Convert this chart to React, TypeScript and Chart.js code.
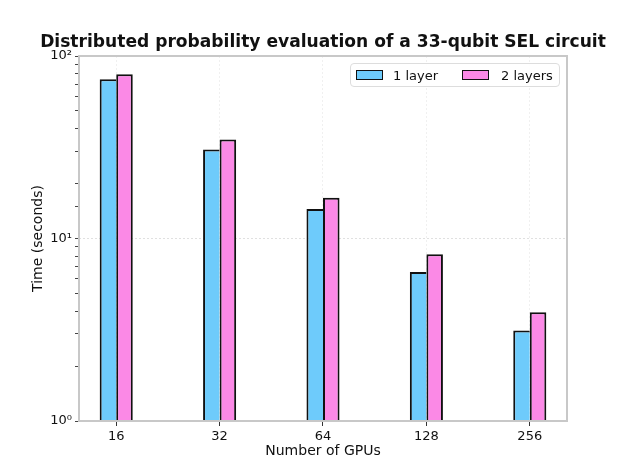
import React, { useEffect, useRef } from "react";
import { Chart, registerables } from "chart.js";

Chart.register(...registerables);

const categories = ["16", "32", "64", "128", "256"];
const oneLayer = [74.5, 30.7, 14.5, 6.55, 3.13];
const twoLayers = [79.5, 34.9, 16.7, 8.2, 3.94];
const yMajorTicks = [1, 10, 100];
const yTickLabels: Record<number, string> = { 1: "10\u2070", 10: "10\u00b9", 100: "10\u00b2" };
const seriesNames = ["1 layer", "2 layers"];
const seriesColors = ["#6ecbfb", "#fb89e6"];
const titleText = "Distributed probability evaluation of a 33-qubit SEL circuit";

const FONT = "'DejaVu Sans', sans-serif";

const boxPlugin = {
  id: "boxPlugin",
  afterDraw(chart: any) {
    const { ctx, chartArea: a } = chart;
    ctx.save();
    ctx.strokeStyle = "#c8c8c8";
    ctx.lineWidth = 2;
    ctx.strokeRect(a.left, a.top, a.right - a.left, a.bottom - a.top);
    ctx.fillStyle = "#111";
    ctx.font = `bold 17.1px ${FONT}`;
    ctx.textAlign = "center";
    ctx.textBaseline = "middle";
    ctx.fillText(titleText, (a.left + a.right) / 2, 43);
    ctx.restore();
  },
};

export default function App() {
  const ref = useRef<HTMLCanvasElement>(null);
  useEffect(() => {
    if (!ref.current) return;
    const toXY = (arr: number[]) => arr.map((v, i) => ({ x: i, y: v }));
    const chart = new Chart(ref.current, {
      type: "bar",
      data: {
        datasets: [
          {
            label: seriesNames[0],
            data: toXY(oneLayer),
            backgroundColor: seriesColors[0],
            borderColor: "#111",
            borderWidth: { top: 2, left: 2, right: 0, bottom: 0 },
            borderSkipped: false,
            categoryPercentage: 0.32,
            barPercentage: 1,
          },
          {
            label: seriesNames[1],
            data: toXY(twoLayers),
            backgroundColor: seriesColors[1],
            borderColor: "#111",
            borderWidth: { top: 2, left: 2, right: 2, bottom: 0 },
            borderSkipped: false,
            categoryPercentage: 0.32,
            barPercentage: 1,
          },
        ],
      },
      options: {
        animation: false,
        responsive: true,
        maintainAspectRatio: false,
        layout: { padding: { left: 30, right: 63, top: 56, bottom: 13 } },
        plugins: {
          legend: { display: false },
          tooltip: { enabled: false },
          title: { display: false },
        },
        scales: {
          x: {
            type: "linear",
            min: -0.36,
            max: categories.length - 1 + 0.36,
            offset: false,
            afterBuildTicks: (scale: any) => {
              scale.ticks = categories.map((_, i) => ({ value: i }));
            },
            afterFit: (scale: any) => {
              scale.height = 39;
            },
            ticks: {
              autoSkip: false,
              maxRotation: 0,
              padding: 3,
              color: "#111",
              font: { family: FONT, size: 13 },
              callback: (v: any) => categories[Math.round(Number(v))] ?? "",
            },
            grid: {
              offset: false,
              color: "rgba(0,0,0,0.06)",
              tickColor: "#333",
              tickLength: 5,
              lineWidth: 1,
            },
            border: { display: false, dash: [2, 2] },
            title: {
              display: true,
              text: "Number of GPUs",
              color: "#111",
              font: { family: FONT, size: 14 },
              padding: { top: 2, bottom: 0 },
            },
          },
          y: {
            type: "logarithmic",
            min: 1,
            max: 100,
            afterFit: (scale: any) => {
              scale.width = 49;
            },
            ticks: {
              autoSkip: false,
              padding: 3,
              color: "#111",
              font: { family: FONT, size: 13 },
              callback: (v: any) => yTickLabels[Number(v)] ?? "",
            },
            grid: {
              color: (c: any) =>
                c.tick && yMajorTicks.includes(c.tick.value) ? "rgba(0,0,0,0.12)" : "rgba(0,0,0,0)",
              tickColor: "#444",
              tickLength: 4,
              lineWidth: 1,
            },
            border: { display: false, dash: [2, 2] },
            title: {
              display: true,
              text: "Time (seconds)",
              color: "#111",
              font: { family: FONT, size: 14 },
              padding: { top: 0, bottom: 4 },
            },
          },
        },
      },
      plugins: [boxPlugin],
    });
    return () => chart.destroy();
  }, []);

  const sw = (c: string) => ({
    display: "inline-block",
    width: 25,
    height: 8,
    background: c,
    border: "1.5px solid #111",
    verticalAlign: "middle",
  });

  return (
    <div style={{ position: "fixed", left: 0, top: 0, width: 630, height: 473, background: "#fff" }}>
      <canvas ref={ref} />
      <div
        style={{
          position: "absolute",
          left: 350,
          top: 63,
          width: 210,
          height: 24,
          border: "1px solid #ddd",
          borderRadius: 4,
          background: "rgba(255,255,255,0.9)",
          fontFamily: FONT,
          fontSize: 13,
          color: "#111",
          display: "flex",
          alignItems: "center",
          boxSizing: "border-box",
        }}
      >
        <span style={{ ...sw(seriesColors[0]), marginLeft: 5 }} />
        <span style={{ marginLeft: 10 }}>{seriesNames[0]}</span>
        <span style={{ ...sw(seriesColors[1]), marginLeft: 24 }} />
        <span style={{ marginLeft: 12 }}>{seriesNames[1]}</span>
      </div>
    </div>
  );
}
